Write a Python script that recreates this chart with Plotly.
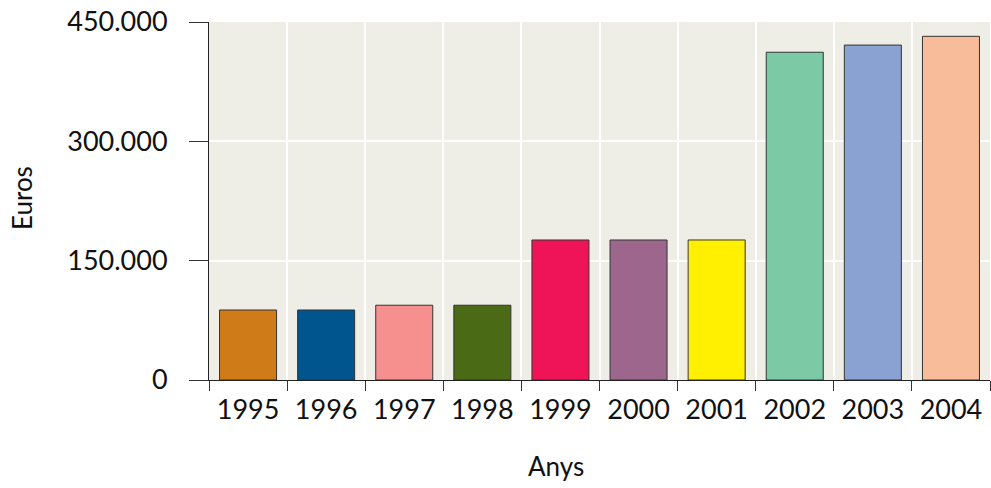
import plotly.graph_objects as go

years = ["1995", "1996", "1997", "1998", "1999", "2000", "2001", "2002", "2003", "2004"]
euros = [88000, 88000, 94000, 94000, 176000, 176000, 176000, 412000, 421000, 432000]
bar_colors = ["#CF7B17", "#01558E", "#F5908F", "#4A6A15", "#EE1457",
              "#9D668C", "#FFEF00", "#7CC9A6", "#8AA2D2", "#F9BC9A"]
y_tickvals = [0, 150000, 300000, 450000]
y_ticktext = ["0", "150.000", "300.000", "450.000"]

FONT = "Lato"

fig = go.Figure(go.Bar(
    x=years, y=euros,
    marker=dict(color=bar_colors, line=dict(color="#333333", width=1)),
    width=0.73,
))

fig.update_layout(
    width=991, height=488,
    margin=dict(l=209, r=1, t=22, b=108),
    paper_bgcolor="white",
    plot_bgcolor="#EFEEE6",
    showlegend=False,
    font=dict(family=FONT, size=27, color="#111111"),
    xaxis=dict(
        type="category",
        showline=True, linecolor="#222222", linewidth=1,
        ticks="outside", ticklen=10, tickcolor="#333333", tickwidth=1,
        tickson="boundaries",
        showgrid=True, gridcolor="white", gridwidth=1.5,
        ticklabelstandoff=6,
        tickfont=dict(family=FONT, size=27, color="#111111"),
    ),
    yaxis=dict(
        range=[0, 450000],
        tickvals=y_tickvals, ticktext=y_ticktext,
        showline=True, linecolor="#222222", linewidth=1,
        ticks="outside", ticklen=19, tickcolor="#333333", tickwidth=1,
        showgrid=True, gridcolor="white", gridwidth=1.5,
        zeroline=False,
        ticklabelstandoff=16,
        tickfont=dict(family=FONT, size=27, color="#111111"),
    ),
    annotations=[
        dict(text="Anys", xref="paper", yref="paper", x=(556 - 209) / 781, y=-(466 - 380) / 358,
             showarrow=False, xanchor="center", yanchor="middle",
             font=dict(family=FONT, size=26, color="#111111")),
        dict(text="Euros", xref="paper", yref="paper", x=-(209 - 22) / 781, y=(380 - 198) / 358,
             showarrow=False, xanchor="center", yanchor="middle", textangle=-90,
             font=dict(family=FONT, size=26, color="#111111")),
    ],
)

fig.write_html("out.html", config={"displayModeBar": False},
               post_script="document.body.style.margin='0';")
